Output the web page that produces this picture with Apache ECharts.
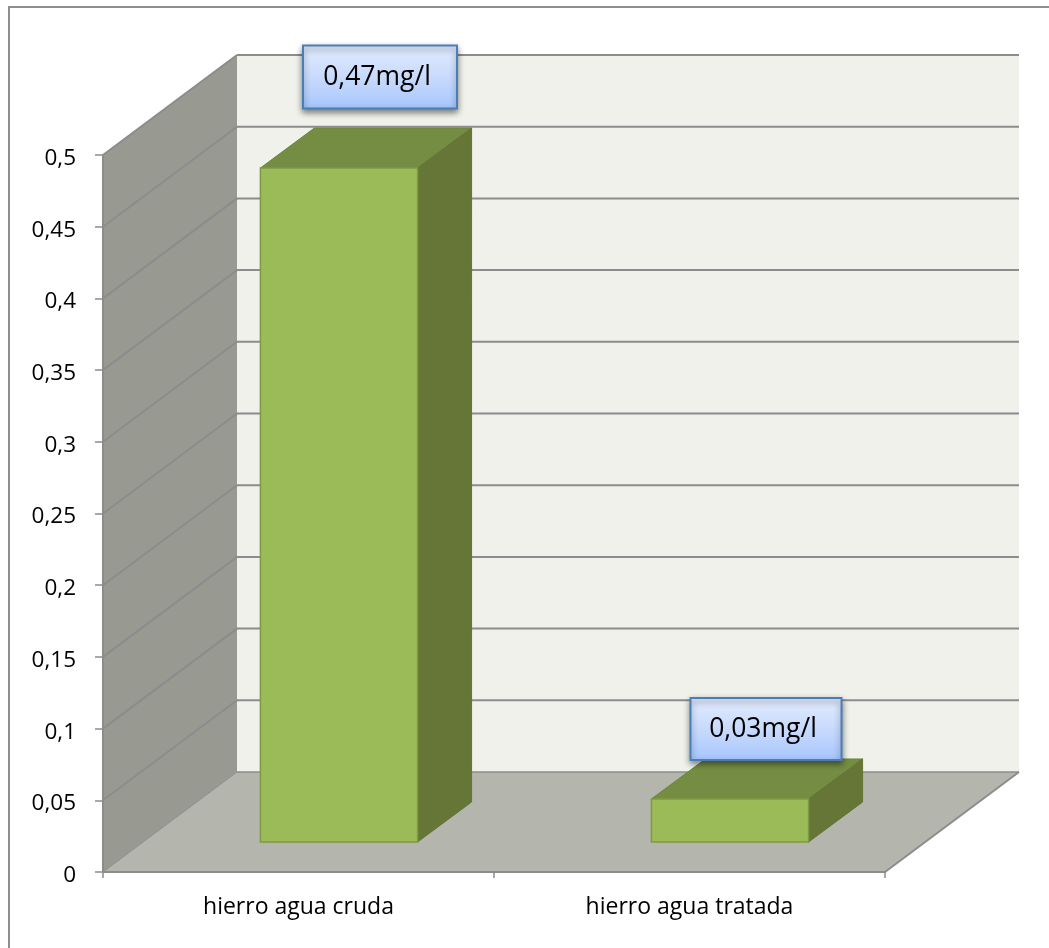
<!DOCTYPE html>
<html>
<head>
<meta charset="utf-8">
<style>
html,body{margin:0;padding:0;background:#fff;}
#chart{width:1049px;height:948px;}
</style>
<script src="https://cdn.jsdelivr.net/npm/echarts@6/dist/echarts.min.js"></script>
</head>
<body>
<div id="chart"></div>
<script>
// Iron content in raw and treated water
var categories = ['hierro agua cruda', 'hierro agua tratada'];
var ironValues = [0.47, 0.03];
var valueLabels = ['0,47mg/l', '0,03mg/l'];
var axisTicks = [0, 0.05, 0.1, 0.15, 0.2, 0.25, 0.3, 0.35, 0.4, 0.45, 0.5];

// Oblique projection of the 3D box, in pixels
var DEPTH = [134, -100];
var BAR_SHIFT = [40.5, -30];
var BAR_DEPTH = [54, -40];
var CALLOUT_SHIFT = [[41, -91], [36, -70]];
var CALLOUT_SIZE = [[154, 63], [151, 62]];

var LINE = '#8c8c8c';
var FONT = '"Open Sans", "Noto Sans", sans-serif';

function poly(points, fill, stroke, lineWidth) {
  return {
    type: 'polygon',
    shape: { points: points },
    style: { fill: fill, stroke: stroke || null, lineWidth: lineWidth || 0 }
  };
}
function seg(a, b, width) {
  return {
    type: 'line',
    shape: { x1: a[0], y1: a[1], x2: b[0], y2: b[1] },
    style: { stroke: LINE, lineWidth: width || 2 }
  };
}
function back(p) { return [p[0] + DEPTH[0], p[1] + DEPTH[1]]; }

// Side wall, back wall, floor and gridlines
function renderRoom(params, api) {
  var xs = params.coordSys;
  var o = [xs.x, api.coord([0, 0])[1]];
  var top = [xs.x, api.coord([0, 0.5])[1]];
  var end = [xs.x + xs.width, o[1]];
  var endTop = [end[0], top[1]];
  var children = [
    poly([o, back(o), back(top), top], '#989a92'),
    poly([back(o), back(end), back(endTop), back(top)], '#eff1ea'),
    poly([o, end, back(end), back(o)], '#b4b6ae')
  ];
  axisTicks.forEach(function (t) {
    var y = api.coord([0, t])[1];
    var a = [xs.x, y];
    var b = back(a);
    var c = back([end[0], y]);
    if (t > 0) {
      children.push(seg(a, b));
      children.push(seg(b, c));
    }
  });
  children.push(seg(o, back(o), 1));
  children.push(seg(end, back(end)));
  children.push(seg(back(o), back(end), 1.5));
  return { type: 'group', children: children };
}

// One bar as a front, top and right face
function renderBar(params, api) {
  var idx = api.value(0);
  var base = api.coord([idx, 0]);
  var head = api.coord([idx, api.value(1)]);
  var w = api.size([1, 0])[0] * 0.402;
  var l = base[0] + BAR_SHIFT[0] - w / 2;
  var r = l + w;
  var b = base[1] + BAR_SHIFT[1];
  var t = head[1] + BAR_SHIFT[1];
  var dx = BAR_DEPTH[0], dy = BAR_DEPTH[1];
  return {
    type: 'group',
    children: [
      poly([[l, t], [r, t], [r + dx, t + dy], [l + dx, t + dy]], '#758d43', '#6c843d', 1),
      poly([[r, t], [r + dx, t + dy], [r + dx, b + dy], [r, b]], '#657636', '#637535', 1),
      poly([[l, t], [r, t], [r, b], [l, b]], '#9bbb59', '#7d9a42', 1.5)
    ]
  };
}

// Value callout floating above a bar
function renderCallout(params, api) {
  var idx = api.value(0);
  var head = api.coord([idx, api.value(1)]);
  var size = CALLOUT_SIZE[idx];
  var shift = CALLOUT_SHIFT[idx];
  var cx = head[0] + BAR_SHIFT[0] + shift[0];
  var cy = head[1] + BAR_SHIFT[1] + shift[1];
  return {
    type: 'group',
    children: [
      {
        type: 'rect',
        shape: { x: cx - size[0] / 2, y: cy - size[1] / 2, width: size[0], height: size[1] },
        style: {
          fill: new echarts.graphic.LinearGradient(0, 0, 0, 1, [
            { offset: 0, color: '#e2ecfe' },
            { offset: 0.5, color: '#c8dafc' },
            { offset: 1, color: '#a6c6fd' }
          ]),
          stroke: '#4a7ebb',
          lineWidth: 2,
          shadowColor: 'rgba(0,0,0,0.45)',
          shadowBlur: 6,
          shadowOffsetY: 3
        }
      },
      {
        type: 'text',
        style: {
          x: cx - 3,
          y: cy,
          text: valueLabels[idx],
          fill: '#000',
          font: '26.5px ' + FONT,
          align: 'center',
          verticalAlign: 'middle'
        }
      }
    ]
  };
}

var chart = echarts.init(document.getElementById('chart'), null, { renderer: 'canvas' });
var rows = ironValues.map(function (v, i) { return [i, v]; });

chart.setOption({
  animation: false,
  backgroundColor: '#fff',
  // Chart frame: only its top and left edges fall inside the page
  graphic: [
    { type: 'line', silent: true, z: -1,
      shape: { x1: 9, y1: 7, x2: 1049, y2: 7 },
      style: { stroke: '#8e8e8e', lineWidth: 2 } },
    { type: 'line', silent: true, z: -1,
      shape: { x1: 9, y1: 6, x2: 9, y2: 948 },
      style: { stroke: '#8e8e8e', lineWidth: 2 } }
  ],
  grid: { left: 103, right: 164, top: 155, bottom: 76, containLabel: false },
  xAxis: {
    type: 'category',
    data: categories,
    boundaryGap: true,
    z: 5,
    axisLine: { show: true, lineStyle: { color: LINE, width: 2 } },
    axisTick: { show: true, alignWithLabel: false, length: 6, lineStyle: { color: LINE, width: 1.5 } },
    axisLabel: { color: '#000', fontFamily: FONT, fontSize: 23, margin: 24 }
  },
  yAxis: {
    type: 'value',
    min: 0,
    max: 0.5,
    interval: 0.05,
    z: 5,
    splitLine: { show: false },
    axisLine: { show: true, lineStyle: { color: LINE, width: 2 } },
    axisTick: { show: true, length: 8, lineStyle: { color: LINE, width: 1.5 } },
    axisLabel: {
      color: '#000',
      fontFamily: FONT,
      fontSize: 22.5,
      margin: 27,
      verticalAlign: 'top',
      lineHeight: 7,
      formatter: function (v) { return String(+v.toFixed(2)).replace('.', ','); }
    }
  },
  series: [
    { type: 'custom', name: 'room', z: 1, clip: false, silent: true, data: [[0, 0]], renderItem: renderRoom },
    { type: 'custom', name: 'hierro', z: 2, clip: false, data: rows, renderItem: renderBar,
      encode: { x: 0, y: 1 } },
    { type: 'custom', name: 'etiquetas', z: 3, clip: false, data: rows, renderItem: renderCallout,
      encode: { x: 0, y: 1 } }
  ]
});
</script>
</body>
</html>
